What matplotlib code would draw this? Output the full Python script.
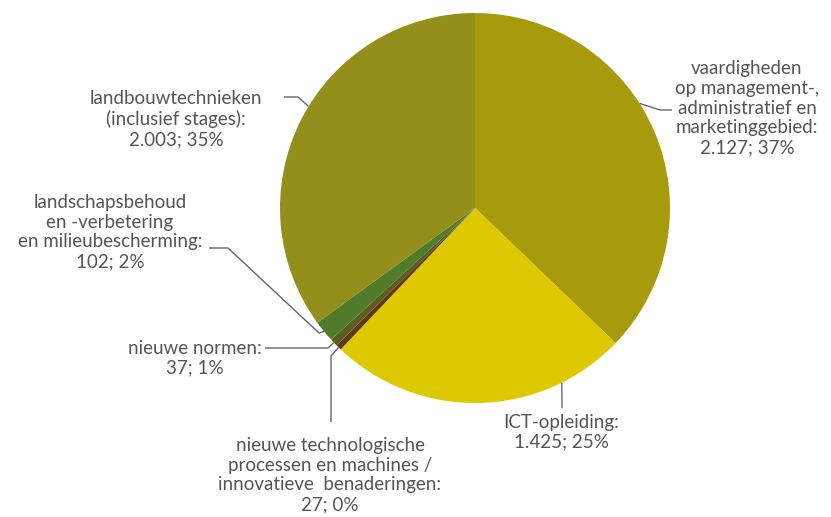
import numpy as np
import matplotlib.pyplot as plt

labels = ['vaardigheden\nop management-,\nadministratief en\nmarketinggebied:',
          'ICT-opleiding:',
          'nieuwe technologische\nprocessen en machines /\ninnovatieve  benaderingen:',
          'nieuwe normen:',
          'landschapsbehoud\nen -verbetering\nen milieubescherming:',
          'landbouwtechnieken\n(inclusief stages):']
values = [2127, 1425, 27, 37, 102, 2003]
value_text = ['2.127', '1.425', '27', '37', '102', '2.003']
pcts = [37, 25, 0, 1, 2, 35]
colors = ['#A89A0D', '#DEC900', '#5E3819', '#5E5B1E', '#4F7B2B', '#948F1B']

plt.rcParams['font.family'] = ['Lato', 'DejaVu Sans']

fig = plt.figure(figsize=(8.31, 5.17), dpi=100)
ax = fig.add_axes([0, 0, 1, 1])

cx, cy, r = 475, 208, 195
# y axis is inverted, so counterclock in data = clockwise on screen
wedges, _ = ax.pie(values, colors=colors, startangle=-90, counterclock=True,
                   center=(cx, cy), radius=r, frame=True,
                   wedgeprops=dict(linewidth=0))
ax.set_xlim(0, 831)
ax.set_ylim(517, 0)
ax.set_aspect('equal')
ax.axis('off')

# text block center, where on the wedge the leader starts (0..1), elbow points
layout = [
    dict(xy=(747, 108), frac=0.43, path=[(660, 110), (672, 110)]),
    dict(xy=(561, 432), frac=0.22, path=[(562, 408)]),
    dict(xy=(330, 475), frac=0.5, path=[(331, 356), (331, 422)]),
    dict(xy=(195, 358), frac=0.5, path=[(328, 348), (265, 348)]),
    dict(xy=(110, 232), frac=0.5, path=[(319, 333), (228, 248), (209, 248)]),
    dict(xy=(176, 119), frac=0.535, path=[(298, 97), (284, 97)]),
]

grey = '#555555'
for w, lab, vt, p, lay in zip(wedges, labels, value_text, pcts, layout):
    th = np.deg2rad(w.theta1 + lay['frac'] * (w.theta2 - w.theta1))
    pts = [(cx + r * np.cos(th), cy + r * np.sin(th))] + lay['path']
    xs, ys = zip(*pts)
    ax.plot(xs, ys, color='#666666', lw=1.0, solid_capstyle='butt')
    ax.text(lay['xy'][0], lay['xy'][1], f'{lab}\n{vt}; {p}%', ha='center',
            va='center', fontsize=13.5, color=grey, linespacing=1.2)

fig.savefig('out.png', dpi=100)
